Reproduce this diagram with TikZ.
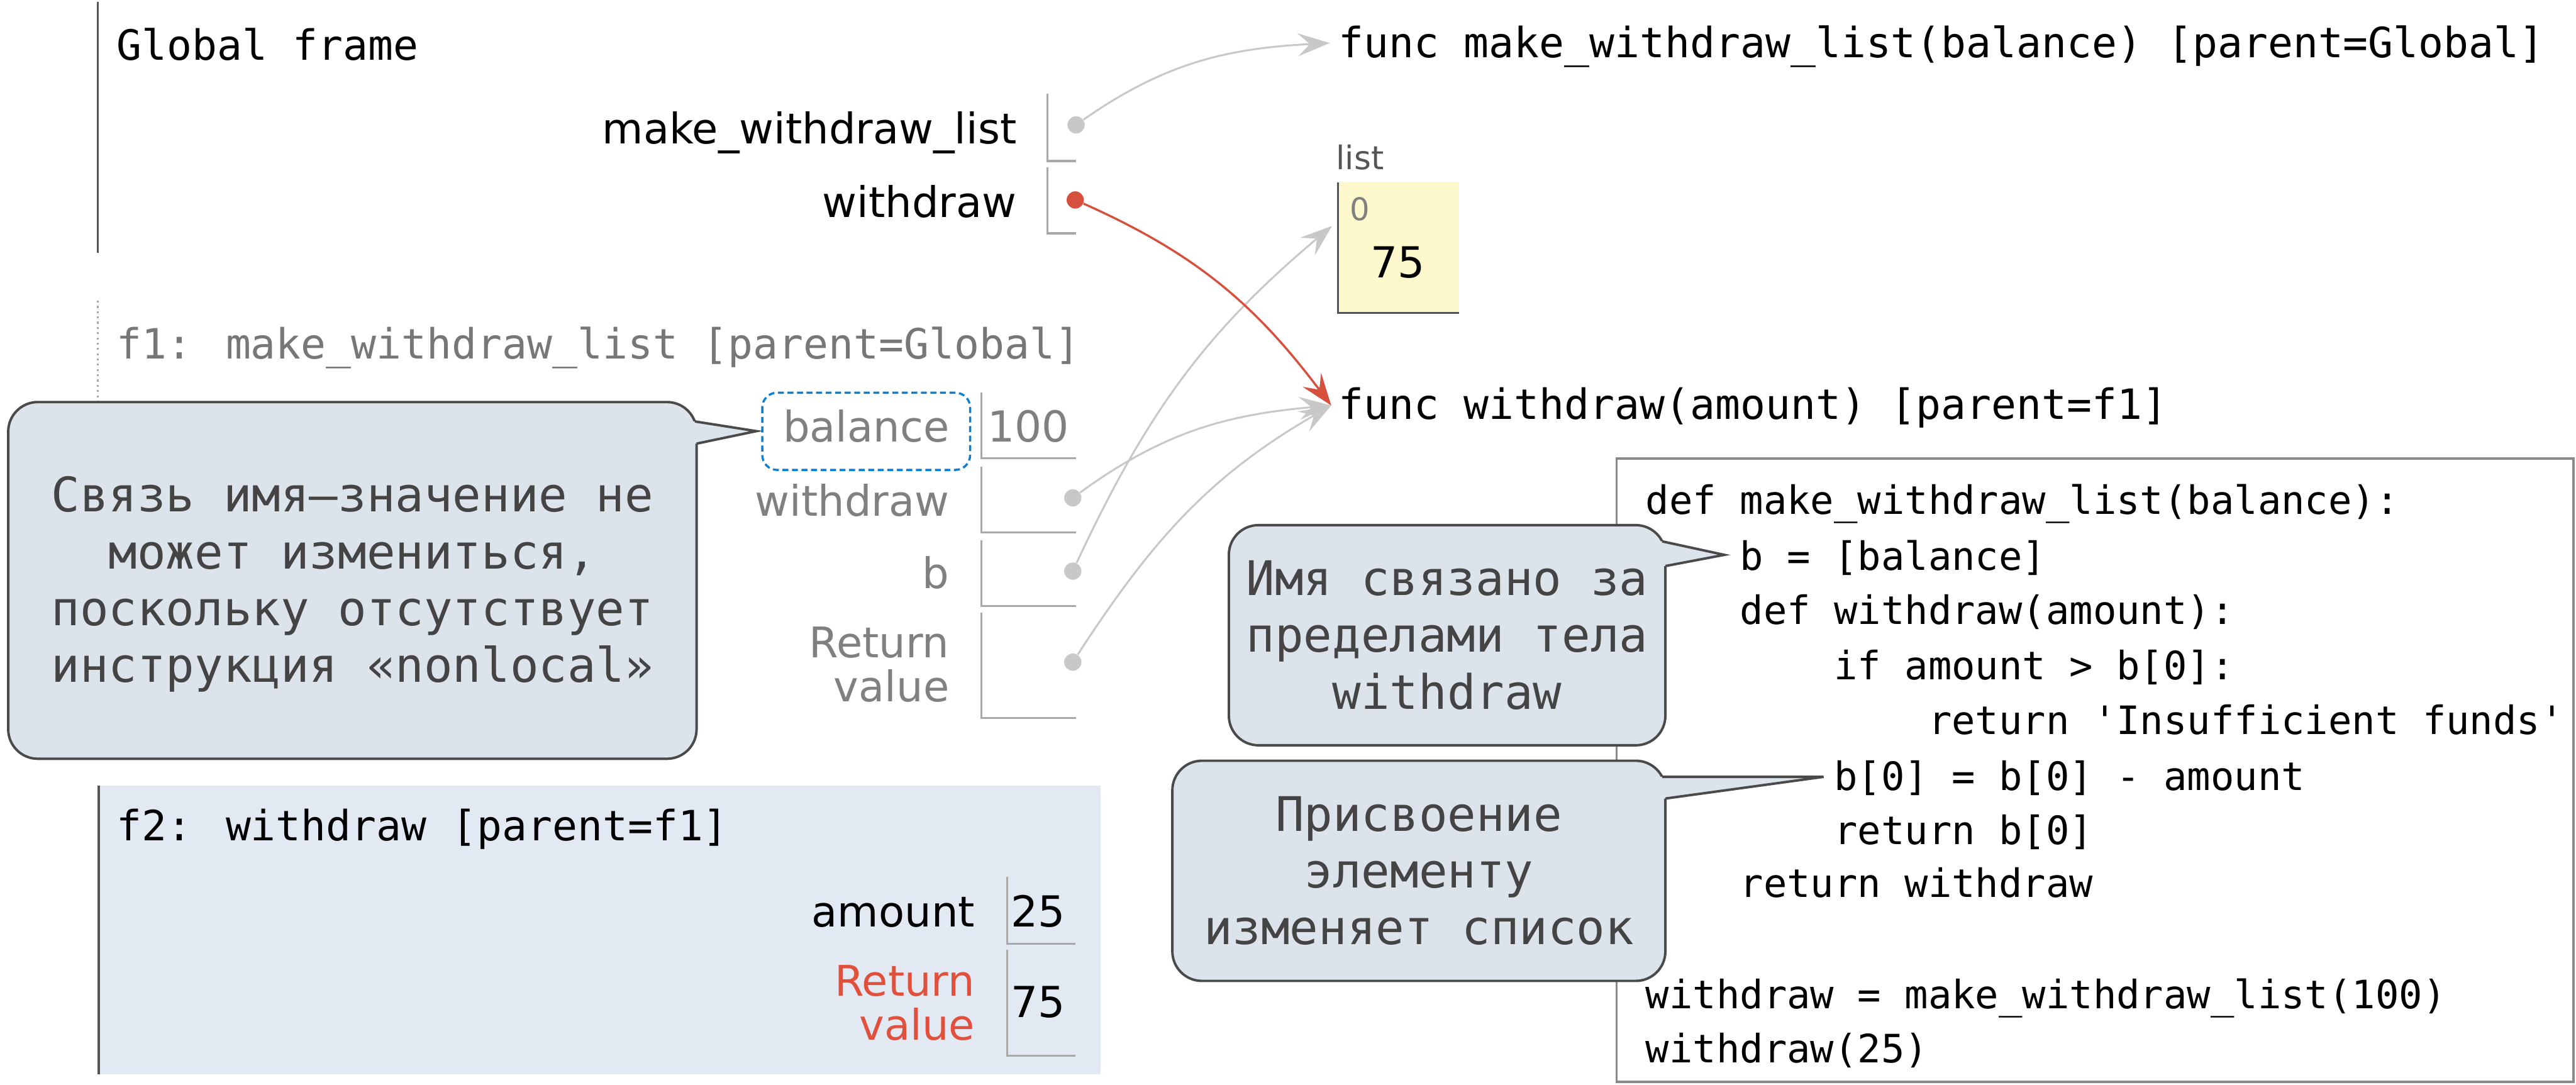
\documentclass[tikz,border=0pt]{standalone}
\usepackage{fontspec}
\setmainfont{DejaVu Sans}
\newfontfamily\mono{DejaVu Sans Mono}[Ligatures=TeXOff]
\usetikzlibrary{arrows.meta}
\definecolor{arrgrey}{HTML}{C8C8C8}
\definecolor{arrred}{HTML}{D6503E}
\definecolor{framedark}{HTML}{555555}
\definecolor{boxgrey}{HTML}{A8A8A8}
\definecolor{lbgrey}{HTML}{808080}
\definecolor{titlegrey}{HTML}{777777}
\definecolor{f2fill}{HTML}{E2E9F3}
\definecolor{callfill}{HTML}{DCE3EA}
\definecolor{callline}{HTML}{4A4A4A}
\definecolor{calltext}{HTML}{444444}
\definecolor{listfill}{HTML}{FDF9CC}
\definecolor{codeframe}{HTML}{8A8A8A}
\definecolor{dashblue}{HTML}{0A7FD4}
\definecolor{retred}{HTML}{E0503C}
\begin{document}
\begin{tikzpicture}[x=1pt,y=1pt,
  hdr/.style={font=\mono\fontsize{25.4}{30}\selectfont, inner sep=0pt, anchor=base west},
  codeline/.style={font=\mono\fontsize{23.8}{28}\selectfont, inner sep=0pt, anchor=base west},
  lbl/.style={font=\fontsize{25.7}{30}\selectfont, inner sep=0pt, anchor=base east},
  val/.style={font=\fontsize{26}{30}\selectfont, inner sep=0pt, anchor=base west},
  framel/.style={draw=framedark, line width=1.4pt},
  boxline/.style={draw=boxgrey, line width=1.2pt},
  gdot/.style={circle, fill=arrgrey, inner sep=0pt, minimum size=10.5pt},
  rdot/.style={circle, fill=arrred, inner sep=0pt, minimum size=10.5pt},
  tipstyle/.style={-{Stealth[length=19.5pt,width=14pt,inset=7.5pt]}},
  garrow/.style={draw=arrgrey, line width=1.15pt, tipstyle},
  rarrow/.style={draw=arrred, line width=1.3pt, tipstyle},
  callout/.style={draw=callline, fill=callfill, line width=1.5pt, rounded corners=18pt, inner sep=0pt},
  calltxt/.style={text=calltext, font=\mono\fontsize{29}{34.6}\selectfont, align=center, inner sep=0pt},
  ptrfill/.style={fill=callfill},
  ptrline/.style={draw=callline, line width=1.5pt, line join=miter},
]
\useasboundingbox (0,0) rectangle (1568,-660);
\fill[white] (0,0) rectangle (1568,-660);

% ---------- Global frame ----------
\draw[framel] (59.5,-1) -- (59.5,-154);
\node[hdr] (gtitle) at (71,-36.7) {Global frame};
\node[lbl] (glmwl) at (619,-87.3) {make\_withdraw\_list};
\node[lbl] (glw) at (619,-132.3) {withdraw};
\draw[boxline] (637.7,-57) |- (655,-98);
\draw[boxline] (637.7,-102) |- (655,-142);

% ---------- f1 frame ----------
\draw[draw=boxgrey, line width=1.2pt, dotted] (59.5,-183) -- (59.5,-250);
\node[hdr, text=titlegrey] (f1title) at (71,-218.3) {f1: make\_withdraw\_list [parent=Global]};
\node[lbl, text=lbgrey] (f1bal) at (578,-269) {balance};
\node[lbl, text=lbgrey] (f1w) at (578,-314) {withdraw};
\node[lbl, text=lbgrey] (f1b) at (578,-358) {b};
\node[lbl, text=lbgrey] (f1r1) at (578,-400.3) {Return};
\node[lbl, text=lbgrey] (f1r2) at (578,-427) {value};
\draw[boxline] (597.3,-239) |- (655,-279);
\draw[boxline] (597.3,-284) |- (655,-324);
\draw[boxline] (597.3,-329) |- (655,-369);
\draw[boxline] (597.3,-373) |- (655,-437);
\node[val, text=lbgrey] (v100) at (601,-269) {100};
\draw[dashblue, line width=1.3pt, dash pattern=on 3.6pt off 2.2pt, rounded corners=9pt] (464,-239) rectangle (590.5,-286);

% ---------- f2 frame ----------
\fill[f2fill] (60,-478) rectangle (670,-654);
\draw[framel] (60,-478) -- (60,-654);
\node[hdr] (f2title) at (71,-511.8) {f2: withdraw [parent=f1]};
\node[lbl] (f2a) at (593.5,-564) {amount};
\node[val] (v25) at (615,-564) {25};
\node[lbl, text=retred] (f2r1) at (593.5,-606) {Return};
\node[lbl, text=retred] (f2r2) at (593.5,-633) {value};
\node[val] (v75b) at (615,-619.3) {75};
\draw[boxline] (613,-533.8) |- (654.5,-574.5);
\draw[boxline] (613,-578) |- (654.5,-642.5);

% ---------- heap objects ----------
\node[hdr] (fn1) at (814.5,-35) {func make\_withdraw\_list(balance) [parent=Global]};
\node[font=\fontsize{19.8}{22}\selectfont, text=framedark, inner sep=0pt, anchor=base west] (listlbl) at (813,-103) {list};
\fill[listfill] (814.5,-111) rectangle (888,-190.5);
\draw[framel, line width=1.2pt] (814.5,-111) |- (888,-190.5);
\node[font=\fontsize{19}{22}\selectfont, text=lbgrey, inner sep=0pt, anchor=base west] (idx0) at (821.5,-134) {0};
\node[val] (v75) at (834,-169) {75};
\node[hdr] (fn2) at (814.5,-255) {func withdraw(amount) [parent=f1]};

% ---------- pointers ----------
\node[gdot] (gd1) at (655,-76) {};
\node[gdot] (fd1) at (653,-303) {};
\node[gdot] (fd2) at (653,-347.6) {};
\node[gdot] (fd3) at (653,-403) {};
\node[rdot] (gd2) at (654.5,-121.7) {};
\coordinate (tfn1) at (809.4,-26.2);
\coordinate (tlist) at (810.8,-137.5);
\coordinate (tfn2) at (810.3,-246.8);
\draw[garrow] (gd1) to[out=35,in=183] (tfn1);
\draw[garrow] (fd1) to[out=36,in=185] (tfn2);
\draw[garrow] (fd2) to[out=65,in=220] (tlist);
\draw[garrow] (fd3) to[out=57,in=210] (tfn2);
\draw[rarrow] (gd2) to[out=-24,in=127] (tfn2);

% ---------- code ----------
\draw[codeframe, line width=1.5pt, fill=white] (984,-279) rectangle (1566.5,-658.5);
\node[codeline] (c1) at (1001.6,-313) {def make\_withdraw\_list(balance):};
\node[codeline] (c2) at (1058.9,-347) {b = [balance]};
\node[codeline] (c3) at (1058.9,-380) {def withdraw(amount):};
\node[codeline] (c4) at (1116.2,-413.5) {if amount > b[0]:};
\node[codeline] (c5) at (1173.5,-447) {return 'Insufficient funds'};
\node[codeline] (c6) at (1116.2,-481) {b[0] = b[0] - amount};
\node[codeline] (c7) at (1116.2,-514) {return b[0]};
\node[codeline] (c8) at (1058.9,-546) {return withdraw};
\node[codeline] (c9) at (1001.6,-614) {withdraw = make\_withdraw\_list(100)};
\node[codeline] (c10) at (1001.6,-646.6) {withdraw(25)};

% ---------- callouts ----------
\node[callout, minimum width=419pt, minimum height=217.1pt] (co1) at (214.5,-353.25) {};
\node[calltxt] (co1t) at (214.5,-355.7)
  {Связь имя–значение не\\может измениться,\\поскольку отсутствует\\инструкция «nonlocal»};
\fill[ptrfill] (419,-256.5) -- (423,-256.5) -- (460.4,-262.4) -- (424,-270) -- (419,-270) -- cycle;
\draw[ptrline] (423,-256.5) -- (460.4,-262.4) -- (424,-270);

\node[callout, minimum width=265.7pt, minimum height=134pt] (co2) at (880.85,-386.6) {};
\node[calltxt] (co2t) at (880.85,-386.6) {Имя связано за\\пределами тела\\withdraw};
\fill[ptrfill] (1008,-329.5) -- (1011.8,-329.5) -- (1049.6,-337.7) -- (1013.7,-344.5) -- (1008,-344.5) -- cycle;
\draw[ptrline] (1011.8,-329.5) -- (1049.6,-337.7) -- (1013.7,-344.5);

\node[callout, minimum width=300.1pt, minimum height=134pt] (co3) at (863.65,-530) {};
\node[calltxt] (co3t) at (863.65,-530) {Присвоение\\элементу\\изменяет список};
\fill[ptrfill] (1008,-472.8) -- (1011.7,-472.8) -- (1110,-472.8) -- (1013.7,-486) -- (1008,-486) -- cycle;
\draw[ptrline] (1011.7,-472.8) -- (1110,-472.8) -- (1013.7,-486);
\end{tikzpicture}
\end{document}
